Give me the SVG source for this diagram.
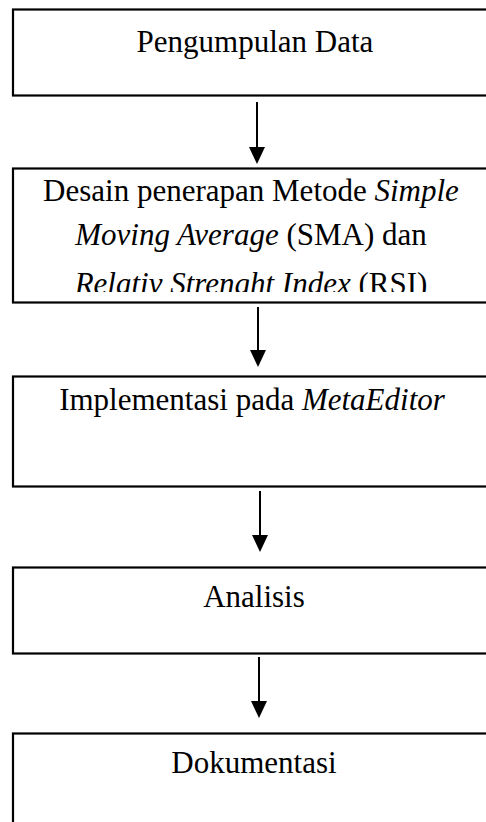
<svg xmlns="http://www.w3.org/2000/svg" width="486" height="822" viewBox="0 0 486 822">
<style>
.box{fill:#fff;stroke:#000;stroke-width:2.2}
.t{font-family:"Liberation Serif","Times New Roman",serif;font-size:31px;fill:#000;text-anchor:middle}
.i{font-style:italic}
.c{stroke:#000;stroke-width:2;fill:none}
</style>
<defs>
<marker id="ah" markerWidth="8" markerHeight="8" refX="7.6" refY="4" orient="auto" markerUnits="userSpaceOnUse" viewBox="0 0 8 8">
<path d="M0,0 L8,4 L0,8 Z" fill="#000"/>
</marker>
<clipPath id="clip2"><rect x="0" y="168" width="486" height="124"/></clipPath>
</defs>
<rect width="486" height="822" fill="#fff"/>
<g id="n1">
<rect class="box" x="13" y="9.5" width="490" height="86"/>
<text class="t" x="255" y="52">Pengumpulan Data</text>
</g>
<g id="n2">
<rect class="box" x="13" y="168.5" width="490" height="134"/>
<g clip-path="url(#clip2)">
<text class="t" x="251" y="201">Desain penerapan Metode <tspan class="i">Simple</tspan></text>
<text class="t" x="251" y="245"><tspan class="i">Moving Average</tspan> (SMA) dan</text>
<text class="t" x="251" y="294"><tspan class="i">Relativ Strenght Index</tspan> (RSI)</text>
</g>
</g>
<g id="n3">
<rect class="box" x="13" y="376.5" width="490" height="110"/>
<text class="t" x="252" y="410">Implementasi pada <tspan class="i">MetaEditor</tspan></text>
</g>
<g id="n4">
<rect class="box" x="13" y="567.5" width="490" height="86"/>
<text class="t" x="254" y="607">Analisis</text>
</g>
<g id="n5">
<rect class="box" x="13" y="733.5" width="490" height="120"/>
<text class="t" x="254" y="773">Dokumentasi</text>
</g>
<g id="connectors">
<path d="M257,102 L257,147" class="c"/>
<path d="M249,147 L265,147 L257,164 Z" fill="#000"/>
<path d="M258,307 L258,350" class="c"/>
<path d="M250,350 L266,350 L258,367 Z" fill="#000"/>
<path d="M260,491 L260,535" class="c"/>
<path d="M252,535 L268,535 L260,552 Z" fill="#000"/>
<path d="M259,657 L259,701" class="c"/>
<path d="M251,701 L267,701 L259,718 Z" fill="#000"/>
</g>
</svg>
